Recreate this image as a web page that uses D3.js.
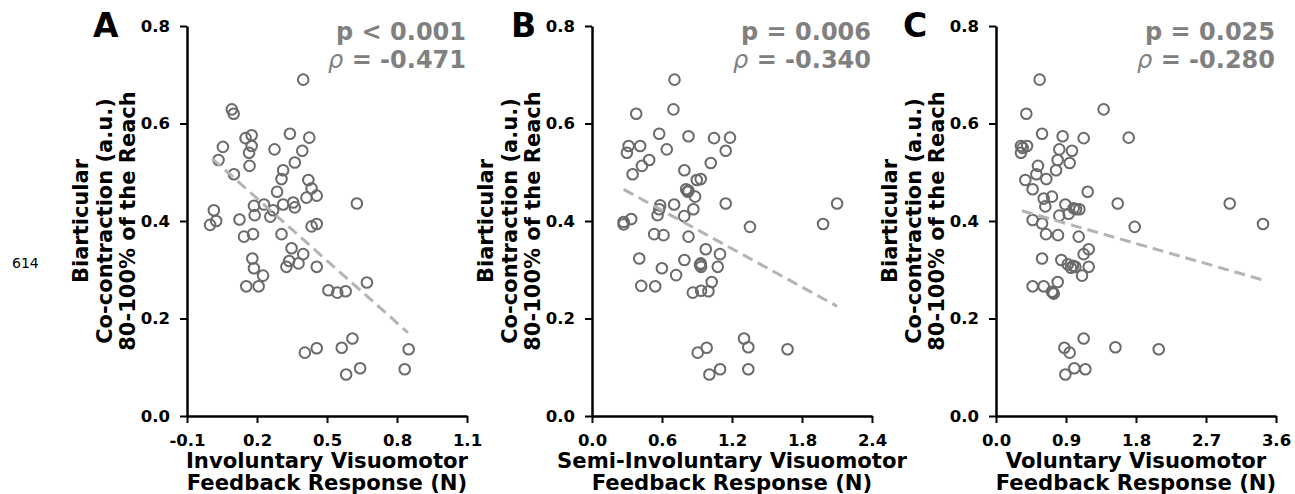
<!DOCTYPE html>
<html>
<head>
<meta charset="utf-8">
<script src="https://cdn.jsdelivr.net/npm/d3@7/dist/d3.min.js"></script>
<style>
  body { margin: 0; background: #fff; }
  svg { display: block; font-family: 'DejaVu Sans', sans-serif; }
</style>
</head>
<body>
<div id="app"></div>
<script>
// Panel A: involuntary response vs co-contraction
const aX = [0.398, 0.092, 0.100, 0.054, 0.035, 0.101, 0.151, 0.177, 0.177, 0.166, 0.168, 0.341, 0.424, 0.275, 0.394, 0.362,
  0.312, 0.305, 0.420, 0.434, 0.286, 0.456, 0.412, 0.355, 0.362, 0.312, 0.230, 0.187, 0.190, 0.269, 0.257, 0.628,
  0.015, 0.025, -0.001, 0.125, 0.434, 0.456, 0.144, 0.183, 0.305, 0.348, 0.398, 0.338, 0.326, 0.378, 0.180, 0.187,
  0.226, 0.456, 0.154, 0.207, 0.506, 0.544, 0.580, 0.671, 0.609, 0.563, 0.456, 0.405, 0.582, 0.642, 0.833, 0.850];
const aY = [0.690, 0.629, 0.620, 0.552, 0.525, 0.496, 0.570, 0.576, 0.554, 0.540, 0.513, 0.579, 0.571, 0.547, 0.544, 0.520,
  0.504, 0.486, 0.484, 0.467, 0.460, 0.452, 0.448, 0.438, 0.428, 0.434, 0.434, 0.431, 0.412, 0.422, 0.409, 0.436,
  0.422, 0.400, 0.392, 0.403, 0.389, 0.394, 0.368, 0.373, 0.373, 0.344, 0.332, 0.318, 0.306, 0.313, 0.323, 0.303,
  0.288, 0.306, 0.266, 0.266, 0.258, 0.253, 0.256, 0.274, 0.159, 0.140, 0.139, 0.130, 0.085, 0.098, 0.096, 0.137];

// Panel B: semi-involuntary response
const bX = [0.707, 0.698, 0.379, 0.576, 0.827, 1.046, 1.183, 0.314, 0.413, 0.299, 0.641, 1.146, 0.490, 0.428, 0.348, 1.018,
  0.792, 0.898, 0.932, 0.807, 0.821, 0.884, 0.869, 0.704, 0.584, 0.562, 0.790, 1.146, 0.271, 0.271, 0.336, 1.354,
  1.981, 2.101, 0.533, 0.613, 0.827, 0.975, 1.097, 0.792, 0.926, 0.932, 1.078, 0.405, 0.599, 0.721, 0.422, 0.542,
  0.864, 0.935, 0.998, 1.026, 1.303, 1.340, 0.983, 0.906, 1.676, 1.006, 1.098, 1.340, 0.827, 0.576, 0.935];
const bY = [0.690, 0.629, 0.620, 0.579, 0.574, 0.570, 0.571, 0.554, 0.554, 0.540, 0.547, 0.544, 0.525, 0.513, 0.496, 0.519,
  0.504, 0.484, 0.486, 0.465, 0.460, 0.450, 0.424, 0.434, 0.432, 0.412, 0.410, 0.436, 0.398, 0.393, 0.404, 0.388,
  0.394, 0.436, 0.373, 0.371, 0.368, 0.342, 0.332, 0.320, 0.310, 0.313, 0.306, 0.323, 0.303, 0.289, 0.267, 0.266,
  0.253, 0.257, 0.256, 0.275, 0.159, 0.141, 0.140, 0.130, 0.137, 0.085, 0.096, 0.096, 0.462, 0.424, 0.306];

// Panel C: voluntary response
const cX = [0.561, 1.384, 0.390, 0.592, 0.857, 1.127, 1.706, 0.321, 0.399, 0.321, 0.814, 0.977, 0.793, 0.540, 0.947, 0.519,
  0.772, 0.377, 0.647, 0.471, 1.179, 0.720, 0.613, 0.634, 0.892, 0.999, 1.072, 0.934, 0.814, 1.565, 3.005, 3.433,
  1.783, 0.471, 0.592, 0.643, 0.797, 1.063, 1.192, 1.127, 0.592, 0.840, 0.922, 0.964, 1.020, 1.192, 1.106, 0.793,
  0.471, 0.613, 0.720, 0.742, 1.127, 0.879, 0.947, 1.535, 2.092, 0.892, 1.007, 1.149, 0.343, 1.029, 0.990, 0.733];
const cY = [0.690, 0.629, 0.620, 0.579, 0.574, 0.570, 0.571, 0.554, 0.554, 0.540, 0.547, 0.544, 0.525, 0.513, 0.519, 0.496,
  0.504, 0.484, 0.486, 0.465, 0.460, 0.450, 0.446, 0.430, 0.434, 0.426, 0.424, 0.415, 0.411, 0.436, 0.436, 0.394,
  0.388, 0.402, 0.395, 0.373, 0.371, 0.368, 0.342, 0.332, 0.323, 0.320, 0.311, 0.304, 0.306, 0.306, 0.288, 0.275,
  0.266, 0.266, 0.255, 0.251, 0.159, 0.140, 0.130, 0.141, 0.137, 0.085, 0.098, 0.096, 0.550, 0.424, 0.308, 0.253];

// fitted trend lines (end points)
const fitX = [[0.008, 0.847], [0.271, 2.101], [0.334, 3.433]];
const fitY = [[0.528, 0.171], [0.465, 0.225], [0.421, 0.279]];

const xTicks = [[-0.1, 0.2, 0.5, 0.8, 1.1], [0.0, 0.6, 1.2, 1.8, 2.4], [0.0, 0.9, 1.8, 2.7, 3.6]];
const yTicks = [0.0, 0.2, 0.4, 0.6, 0.8];
const letters = ['A', 'B', 'C'];
const pTexts = ['p < 0.001', 'p = 0.006', 'p = 0.025'];
const rhoTexts = ['-0.471', '-0.340', '-0.280'];
const xLabels = [
  ['Involuntary Visuomotor', 'Feedback Response (N)'],
  ['Semi-Involuntary Visuomotor', 'Feedback Response (N)'],
  ['Voluntary Visuomotor', 'Feedback Response (N)']
];
const yLabel = ['Biarticular', 'Co-contraction (a.u.)', '80-100% of the Reach'];

const W = 1295, H = 494;
const plotLeft = [187, 592, 996];
const letterLeft = [93, 511, 903];
const plotW = 280, plotTop = 26, plotH = 390;

const svg = d3.select('#app')
  .append('svg')
  .attr('width', W)
  .attr('height', H);

svg.append('text')
  .attr('x', 12)
  .attr('y', 268)
  .attr('font-size', 14)
  .attr('fill', '#000')
  .text('614');

const panels = [
  { xs: aX, ys: aY },
  { xs: bX, ys: bY },
  { xs: cX, ys: cY }
];

const fmt = (d) => d.toFixed(1);

panels.forEach((p, i) => {
  const ticks = xTicks[i];
  const x = d3.scaleLinear()
    .domain([ticks[0], ticks[ticks.length - 1]])
    .range([plotLeft[i], plotLeft[i] + plotW]);
  const y = d3.scaleLinear()
    .domain([0, 0.8])
    .range([plotTop + plotH, plotTop]);

  const g = svg.append('g');

  // axes
  const xa = g.append('g')
    .attr('transform', `translate(0,${plotTop + plotH})`)
    .call(d3.axisBottom(x).tickValues(ticks).tickFormat(fmt).tickSize(7).tickSizeOuter(0).tickPadding(11));
  const ya = g.append('g')
    .attr('transform', `translate(${plotLeft[i]},0)`)
    .call(d3.axisLeft(y).tickValues(yTicks).tickFormat(fmt).tickSize(7).tickSizeOuter(0).tickPadding(10));

  [xa, ya].forEach((ax) => {
    ax.attr('font-family', null).attr('font-size', null);
    ax.select('.domain').attr('stroke', '#000').attr('stroke-width', 2.5);
    ax.selectAll('.tick line').attr('stroke', '#000').attr('stroke-width', 2);
    ax.selectAll('.tick text')
      .attr('font-size', 16.5)
      .attr('font-weight', 'bold')
      .attr('fill', '#000');
  });

  // points
  g.append('g')
    .selectAll('circle')
    .data(p.xs.map((v, k) => ({ x: v, y: p.ys[k] })))
    .enter()
    .append('circle')
    .attr('cx', (d) => x(d.x))
    .attr('cy', (d) => y(d.y))
    .attr('r', 5.3)
    .attr('fill', 'none')
    .attr('stroke', '#6a6a6a')
    .attr('stroke-width', 2);

  // trend line
  g.append('line')
    .attr('x1', x(fitX[i][0]))
    .attr('y1', y(fitY[i][0]))
    .attr('x2', x(fitX[i][1]))
    .attr('y2', y(fitY[i][1]))
    .attr('stroke', '#b4b4b4')
    .attr('stroke-width', 3)
    .attr('stroke-dasharray', '11,6');

  // stats
  const right = plotLeft[i] + plotW - 1;
  g.append('text')
    .attr('x', right)
    .attr('y', 40)
    .attr('text-anchor', 'end')
    .attr('font-size', 24)
    .attr('font-weight', 'bold')
    .attr('fill', '#808080')
    .text(pTexts[i]);
  const rho = g.append('text')
    .attr('x', right)
    .attr('y', 68)
    .attr('text-anchor', 'end')
    .attr('font-size', 24)
    .attr('fill', '#808080');
  rho.append('tspan').attr('font-style', 'italic').text('\u03c1');
  rho.append('tspan').attr('font-weight', 'bold').text(' = ' + rhoTexts[i]);

  // panel letter
  g.append('text')
    .attr('x', letterLeft[i])
    .attr('y', 37)
    .attr('font-size', 33)
    .attr('font-weight', 'bold')
    .text(letters[i]);

  // x label
  const cx = plotLeft[i] + plotW / 2;
  xLabels[i].forEach((t, k) => {
    g.append('text')
      .attr('x', cx)
      .attr('y', 467.5 + k * 22.5)
      .attr('text-anchor', 'middle')
      .attr('font-size', 21.2)
      .attr('font-weight', 'bold')
      .text(t);
  });

  // y label
  const yl = g.append('g')
    .attr('transform', `translate(${plotLeft[i] - 83},${plotTop + plotH / 2}) rotate(-90)`);
  yLabel.forEach((t, k) => {
    yl.append('text')
      .attr('x', 0)
      .attr('y', (k - 1) * 23.5)
      .attr('dy', '0.36em')
      .attr('text-anchor', 'middle')
      .attr('font-size', 21)
      .attr('font-weight', 'bold')
      .text(t);
  });
});
</script>
</body>
</html>
